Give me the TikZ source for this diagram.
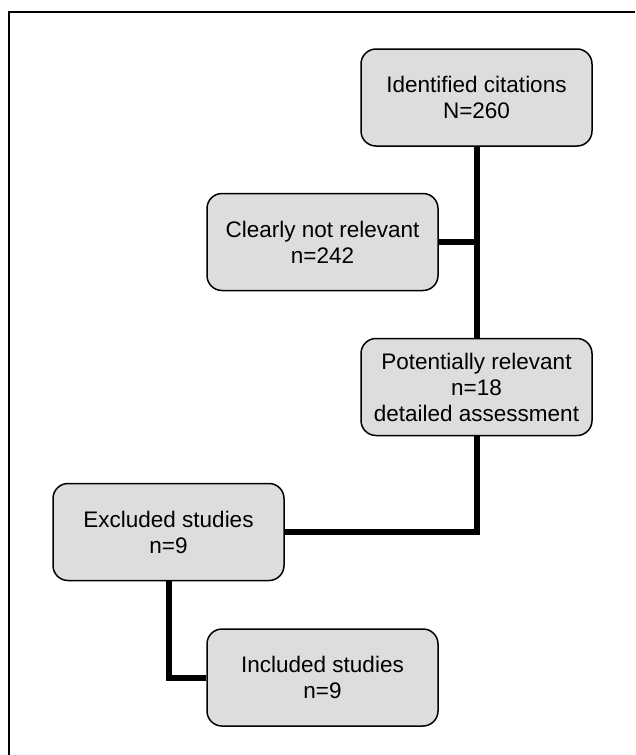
\documentclass[tikz,border=0pt]{standalone}
\usepackage{fontspec}
\setmainfont{Liberation Sans}
\definecolor{boxfill}{HTML}{DDDDDD}
\tikzset{
  flowbox/.style={draw=black, line width=1.5pt, fill=boxfill, rounded corners=15pt,
    minimum width=231pt, minimum height=97pt, inner sep=0pt, align=center,
    font=\fontsize{22.5}{26}\selectfont},
  link/.style={line width=6pt, line join=miter, draw=black},
  frameline/.style={line width=2pt, draw=black}
}
\begin{document}
\begin{tikzpicture}[x=1pt,y=-1pt]
\useasboundingbox (0,0) rectangle (635,755);
\coordinate (ftr) at (635,12);
\coordinate (ftl) at (8.5,12);
\coordinate (fbl) at (8.5,755);
\draw[frameline] (ftr) -- (ftl) -- (fbl);
\node[flowbox] (ident) at (476.5,97.5) {Identified citations\\N=260};
\node[flowbox] (clear) at (322.5,242) {Clearly not relevant\\n=242};
\node[flowbox] (pot) at (476.5,387) {Potentially relevant\\n=18\\detailed assessment};
\node[flowbox] (excl) at (168.5,532) {Excluded studies\\n=9};
\node[flowbox] (incl) at (322.5,677.5) {Included studies\\n=9};
\draw[link] (ident.south) -- (pot.north);
\draw[link] (clear.east) -- (clear.east -| ident.south);
\draw[link] (pot.south) |- (excl.east);
\draw[link] (excl.south) |- (incl.west);
\end{tikzpicture}
\end{document}
